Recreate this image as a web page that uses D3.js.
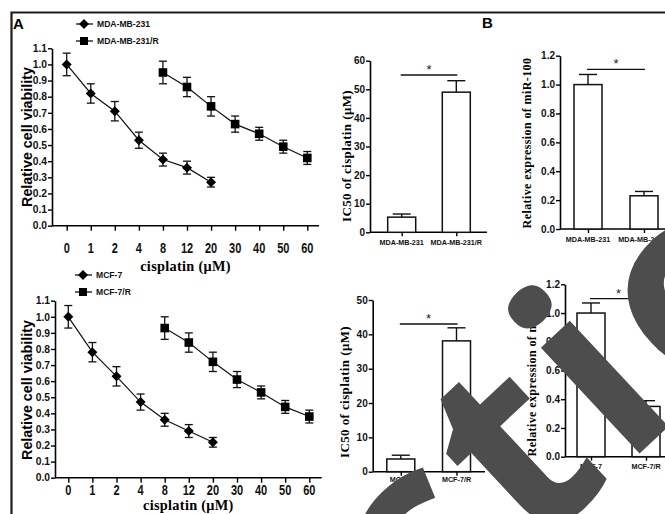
<!DOCTYPE html>
<html><head><meta charset="utf-8">
<script src="https://cdn.jsdelivr.net/npm/d3@7"></script>
<style>body{margin:0;background:#fff}svg{display:block}</style>
</head><body>
<svg id="c" width="665" height="514"></svg>
<script>
// ---------- data ----------
const doses = ["0","1","2","4","8","12","20","30","40","50","60"];
const viabTicks = [0,0.1,0.2,0.3,0.4,0.5,0.6,0.7,0.8,0.9,1.0,1.1];

const parDoses = ["0","1","2","4","8","12","20"];
const resDoses = ["8","12","20","30","40","50","60"];

const mdaViab  = [1.00,0.82,0.71,0.53,0.41,0.36,0.27];
const mdaErr   = [0.07,0.06,0.06,0.05,0.04,0.04,0.03];
const mdaRViab = [0.95,0.86,0.74,0.63,0.57,0.49,0.42];
const mdaRErr  = [0.07,0.06,0.06,0.05,0.04,0.04,0.04];

const mcfViab  = [1.00,0.78,0.63,0.47,0.36,0.29,0.22];
const mcfErr   = [0.07,0.06,0.06,0.05,0.04,0.04,0.03];
const mcfRViab = [0.93,0.84,0.72,0.61,0.53,0.44,0.38];
const mcfRErr  = [0.07,0.06,0.06,0.05,0.04,0.04,0.04];

const mdaGroups = ["MDA-MB-231","MDA-MB-231/R"];
const mcfGroups = ["MCF-7","MCF-7/R"];
const mdaIC50 = [5.3,49.0];   const mdaIC50Err = [1.1,4.0];
const mcfIC50 = [3.7,38.1];   const mcfIC50Err = [1.1,3.8];
const mdaMiR  = [1.00,0.23];  const mdaMiRErr  = [0.07,0.03];
const mcfMiR  = [1.00,0.35];  const mcfMiRErr  = [0.07,0.04];
const ic50TicksTop = [0,10,20,30,40,50,60];
const ic50TicksBot = [0,10,20,30,40,50];
const mirTicks = [0,0.2,0.4,0.6,0.8,1.0,1.2];

const watermarkText = "Retraction";

// ---------- drawing ----------
const SANS = "'Liberation Sans', Arial, sans-serif";
const SERIF = "'Liberation Serif', 'Times New Roman', serif";
const svg = d3.select("#c");
svg.append("rect").attr("width",665).attr("height",514).attr("fill","#fff");
svg.append("path").attr("d","M11.5,514V12.5H665").attr("fill","none").attr("stroke","#1c1c1c").attr("stroke-width",2.2);

svg.append("text").text("A").attr("x",13).attr("y",29).attr("font-family",SANS).attr("font-weight","bold").attr("font-size",15);
svg.append("text").text("B").attr("x",482).attr("y",28).attr("font-family",SANS).attr("font-weight","bold").attr("font-size",15);

function linePanel(o){
  const g = svg.append("g");
  const x = d3.scalePoint().domain(doses).range([o.x0,o.x1]);
  const y = d3.scaleLinear().domain([0,1.1]).range([o.yb,o.yt]);
  const ya = g.append("g").attr("transform",`translate(${o.ax},0)`)
    .call(d3.axisLeft(y).tickValues(viabTicks).tickFormat(d3.format(".1f")).tickSize(4).tickSizeOuter(0));
  ya.select(".domain").attr("stroke-width",1.6);
  ya.selectAll(".tick line").attr("stroke-width",1.4);
  ya.selectAll("text").attr("font-family",SANS).attr("font-weight","bold").attr("font-size",10.3).attr("x",-5).attr("fill","#111");
  g.append("line").attr("x1",o.ax).attr("x2",o.xe).attr("y1",o.yb).attr("y2",o.yb).attr("stroke","#000").attr("stroke-width",1.6);
  const xa = g.append("g").attr("transform",`translate(0,${o.yb})`).call(d3.axisBottom(x).tickSize(5).tickSizeOuter(0));
  xa.select(".domain").remove(); xa.selectAll("text").remove();
  xa.selectAll(".tick line").attr("stroke-width",1.4);
  g.selectAll("text.xl").data(doses).join("text").attr("class","xl")
    .attr("transform",d=>`translate(${x(d)},${o.xlb}) scale(1,1.33)`)
    .attr("text-anchor","middle").attr("font-family",SANS).attr("font-weight","bold").attr("font-size",11).attr("fill","#111").text(d=>d);
  g.append("text").attr("x",(o.ax+o.xe)/2).attr("y",o.xtb).attr("text-anchor","middle")
    .attr("font-family",SERIF).attr("font-weight","bold").attr("font-size",14.3).attr("letter-spacing",0.3).text("cisplatin (\u03bcM)");
  g.append("text").attr("transform",`translate(${o.ytx},${o.yty}) rotate(-90)`).attr("text-anchor","middle")
    .attr("font-family",SANS).attr("font-weight","bold").attr("font-size",14.3).text("Relative cell viability");

  o.series.forEach((s,si)=>{
    const pts = s.doses.map((d,i)=>({d, v:s.vals[i], e:s.errs[i]}));
    g.append("path").datum(pts).attr("fill","none").attr("stroke","#111").attr("stroke-width",1.2)
      .attr("d", d3.line().x(p=>x(p.d)).y(p=>y(p.v)));
    const eb = g.append("g").attr("stroke","#111").attr("stroke-width",1.3).attr("fill","none");
    pts.forEach(p=>{
      const cx=x(p.d);
      eb.append("line").attr("x1",cx).attr("x2",cx).attr("y1",y(p.v-p.e)).attr("y2",y(p.v+p.e));
      [p.v-p.e,p.v+p.e].forEach(v=>eb.append("line").attr("x1",cx-4).attr("x2",cx+4).attr("y1",y(v)).attr("y2",y(v)));
    });
    g.selectAll(null).data(pts).join("path").attr("fill","#000")
      .attr("d", d3.symbol().type(d3.symbolSquare).size(s.type==="diamond"?50:74)())
      .attr("transform",p=>`translate(${x(p.d)},${y(p.v)})`+(s.type==="diamond"?" rotate(45)":""));
    const ly = o.ly + si*17;
    g.append("line").attr("x1",o.lx-8).attr("x2",o.lx+9).attr("y1",ly).attr("y2",ly).attr("stroke","#111").attr("stroke-width",1.3);
    g.append("path").attr("fill","#000").attr("d", d3.symbol().type(d3.symbolSquare).size(s.type==="diamond"?50:64)())
      .attr("transform",`translate(${o.lx},${ly})`+(s.type==="diamond"?" rotate(45)":""));
    g.append("text").attr("x",o.lx+13).attr("y",ly+3.2).attr("font-family",SANS).attr("font-weight","bold").attr("font-size",8.6).attr("fill","#111").text(s.name);
  });
}

linePanel({x0:66.7,x1:307.3,ax:52,xe:319,yb:225.7,yt:48.3,xlb:253,xtb:271,ytx:32,yty:137,lx:84,ly:24,
  series:[{name:"MDA-MB-231",doses:parDoses,vals:mdaViab,errs:mdaErr,type:"diamond"},
          {name:"MDA-MB-231/R",doses:resDoses,vals:mdaRViab,errs:mdaRErr,type:"square"}]});
linePanel({x0:68.3,x1:309.3,ax:55,xe:321.7,yb:477.7,yt:300.7,xlb:494.5,xtb:509.5,ytx:32,yty:390,lx:83,ly:275,
  series:[{name:"MCF-7",doses:parDoses,vals:mcfViab,errs:mcfErr,type:"diamond"},
          {name:"MCF-7/R",doses:resDoses,vals:mcfRViab,errs:mcfRErr,type:"square"}]});

function barPanel(o){
  const g = svg.append("g");
  const x = d3.scalePoint().domain(o.groups).range([o.c0,o.c1]);
  const y = d3.scaleLinear().domain([0,o.max]).range([o.yb,o.yt]);
  const ya = g.append("g").attr("transform",`translate(${o.ax},0)`)
    .call(d3.axisLeft(y).tickValues(o.ticks).tickFormat(o.fmt).tickSize(4).tickSizeOuter(0));
  ya.select(".domain").attr("stroke-width",1.6);
  ya.selectAll(".tick line").attr("stroke-width",1.4);
  ya.selectAll("text").attr("font-family",SANS).attr("font-weight","bold").attr("font-size",10).attr("x",-5).attr("fill","#111");
  g.append("line").attr("x1",o.ax).attr("x2",o.xe).attr("y1",o.yb).attr("y2",o.yb).attr("stroke","#000").attr("stroke-width",1.6);
  const xa = g.append("g").attr("transform",`translate(0,${o.yb})`).call(d3.axisBottom(x).tickSize(4).tickSizeOuter(0));
  xa.select(".domain").remove(); xa.selectAll("text").remove();
  xa.selectAll(".tick line").attr("stroke-width",1.4);
  g.selectAll("text.cl").data(o.groups).join("text").attr("class","cl").attr("x",d=>x(d)).attr("y",o.clb)
    .attr("text-anchor","middle").attr("font-family",SANS).attr("font-weight","bold").attr("font-size",7.2).attr("fill","#111").text(d=>d);
  const bw = 28;
  o.groups.forEach((gr,i)=>{
    const cx = x(gr), v=o.vals[i], e=o.errs[i];
    g.append("line").attr("x1",cx).attr("x2",cx).attr("y1",y(v)).attr("y2",y(v+e)).attr("stroke","#111").attr("stroke-width",1.4);
    g.append("line").attr("x1",cx-9).attr("x2",cx+9).attr("y1",y(v+e)).attr("y2",y(v+e)).attr("stroke","#111").attr("stroke-width",1.4);
    g.append("rect").attr("x",cx-bw/2).attr("y",y(v)).attr("width",bw).attr("height",o.yb-y(v))
      .attr("fill","#fff").attr("stroke","#111").attr("stroke-width",1.5);
  });
  const sy = y(o.sig);
  g.append("line").attr("x1",x(o.groups[0])-1).attr("x2",x(o.groups[1])+1).attr("y1",sy).attr("y2",sy).attr("stroke","#111").attr("stroke-width",1.4);
  g.append("text").attr("x",(x(o.groups[0])+x(o.groups[1]))/2).attr("y",sy-1).attr("text-anchor","middle")
    .attr("font-family",SANS).attr("font-size",13).attr("fill","#222").text("*");
  g.append("text").attr("transform",`translate(${o.ytx},${o.yty}) rotate(-90)`).attr("text-anchor","middle")
    .attr("font-family",SERIF).attr("font-weight","bold").attr("font-size",o.tfs).attr("letter-spacing",0.4).text(o.title);
}
const f0 = d3.format("d"), f1 = d3.format(".1f");
barPanel({groups:mdaGroups,vals:mdaIC50,errs:mdaIC50Err,max:60,ticks:ic50TicksTop,fmt:f0,ax:370,xe:487,yb:232.3,yt:60.7,
  c0:401.7,c1:456.3,clb:244.5,sig:55,title:"IC50 of cisplatin (\u03bcM)",ytx:351,yty:156,tfs:13});
barPanel({groups:mdaGroups,vals:mdaMiR,errs:mdaMiRErr,max:1.2,ticks:mirTicks,fmt:f1,ax:560,xe:670,yb:229,yt:55.7,
  c0:588,c1:644,clb:241.5,sig:1.105,title:"Relative expression of miR-100",ytx:531,yty:143,tfs:12});
barPanel({groups:mcfGroups,vals:mcfIC50,errs:mcfIC50Err,max:50,ticks:ic50TicksBot,fmt:f0,ax:372.7,xe:485,yb:471.7,yt:300,
  c0:400.8,c1:456.5,clb:482,sig:43,title:"IC50 of cisplatin (\u03bcM)",ytx:349,yty:392,tfs:13});
barPanel({groups:mcfGroups,vals:mcfMiR,errs:mcfMiRErr,max:1.2,ticks:mirTicks,fmt:f1,ax:565,xe:670,yb:456.7,yt:284.3,
  c0:591,c1:646,clb:469,sig:1.1,title:"Relative expression of miR-100",ytx:536,yty:371,tfs:12});

// ---------- overlaid watermark text ----------
const wmLS = 12;
const wmG = svg.append("g");
const wmInner = wmG.append("g");
const wt = wmInner.append("text").attr("x",0).attr("y",0)
  .attr("font-family","'Open Sans', 'DejaVu Sans', sans-serif").attr("font-weight",700).attr("font-size",265)
  .attr("letter-spacing",wmLS).attr("fill","#4d4d4d").text(watermarkText);
const iIdx = watermarkText.indexOf("i");
const node = wt.node();
const s0 = node.getStartPositionOfChar(iIdx).x, s1 = node.getEndPositionOfChar(iIdx).x;
const adv = (s1 - s0) > wmLS ? (s1 - s0 - wmLS) : (s1 - s0);
const iMid = s0 + adv/2;
wmInner.attr("transform",`translate(${-iMid},0)`);
wmG.attr("transform","translate(654,440) rotate(-43)");
</script>
</body></html>
